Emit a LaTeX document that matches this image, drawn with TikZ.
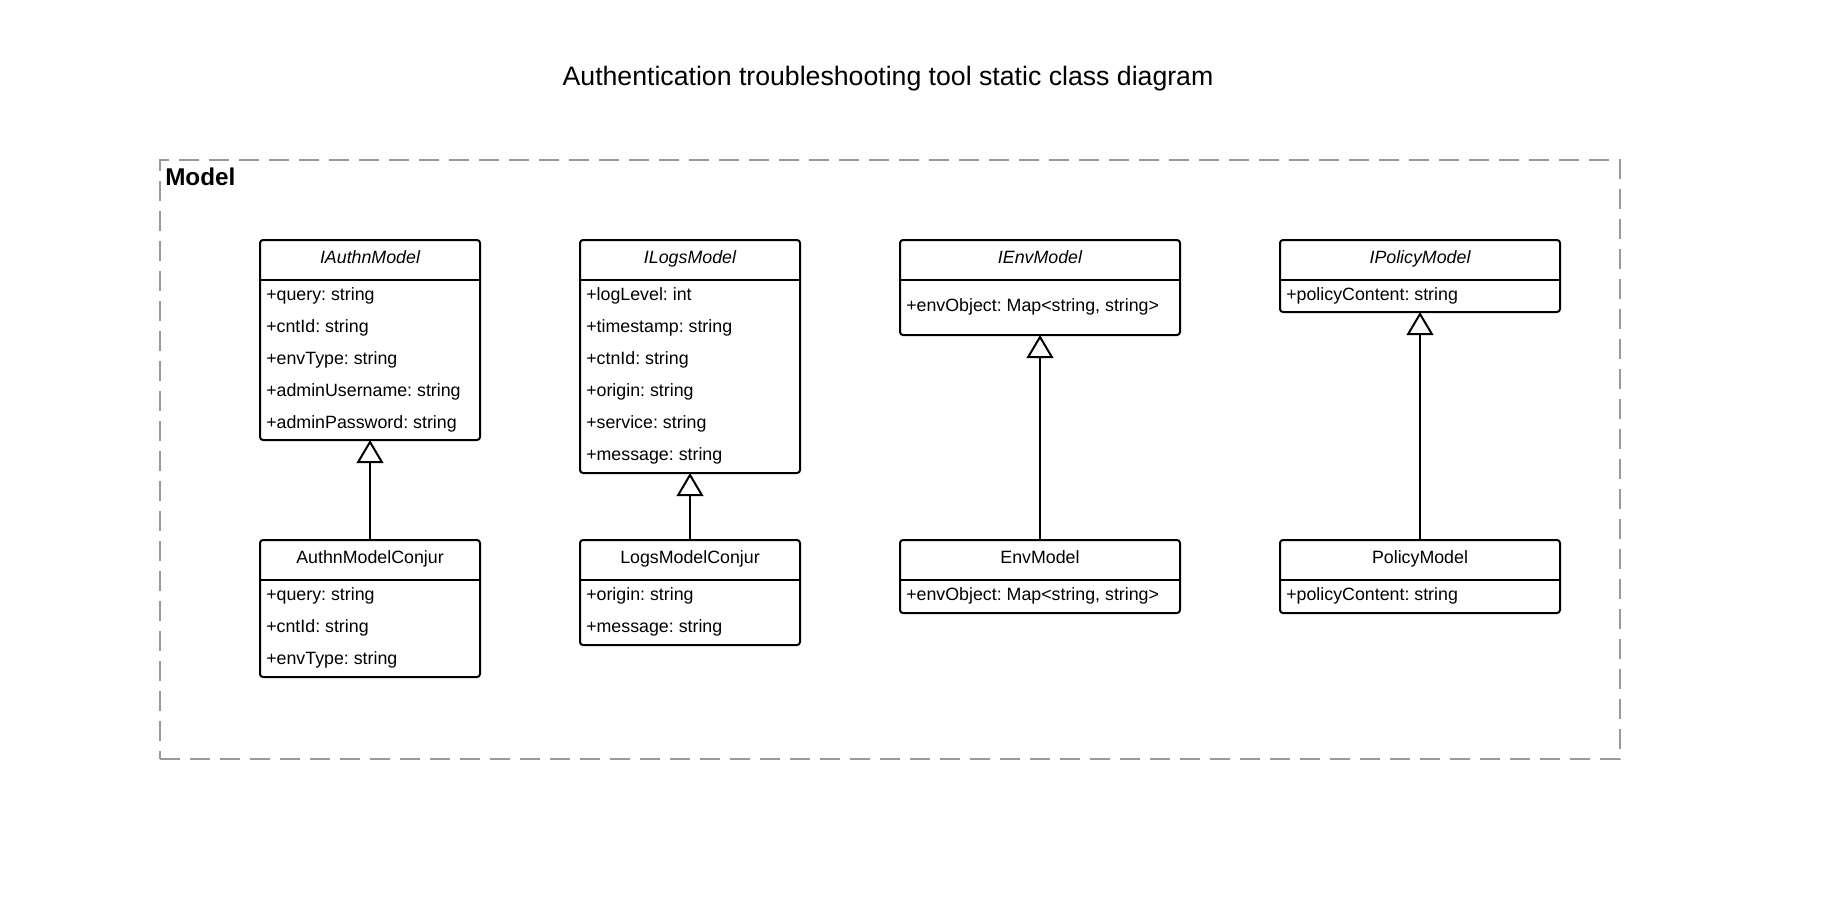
\documentclass[tikz,border=0pt]{standalone}
\usepackage{fontspec}
\setmainfont{Liberation Sans}
\frenchspacing
\usetikzlibrary{arrows.meta}
\definecolor{pkggray}{HTML}{999999}
\tikzset{
 classbox/.style={draw, line width=1.5pt, rounded corners=2.25pt, inner sep=0pt, outer sep=0pt},
 sepline/.style={line width=1.5pt},
 ctitle/.style={font=\fontsize{13.35pt}{16pt}\selectfont, inner sep=0pt},
 attr/.style={font=\fontsize{13.35pt}{16pt}\selectfont, inner sep=0pt, anchor=base west},
 inherit/.style={line width=1.5pt, -{Triangle[open, length=17.25pt, width=20pt, line width=1.5pt]}},
 pkg/.style={draw=pkggray, dash pattern=on 15pt off 7.5pt, line width=1.5pt, inner sep=0pt, outer sep=0pt},
}
\newcommand\umlclass[7]{%
  \node[classbox, anchor=north west, minimum width=#4*0.75pt, minimum height=#5*0.75pt] (#1) at (#2,#3) {};
  \draw[sepline] ([yshift=-30pt]#1.north west) -- ([yshift=-30pt]#1.north east);
  \node[ctitle, anchor=base] (#1-t) at ([yshift=-17.8pt]#1.north) {#6#7};
}
\begin{document}
\begin{tikzpicture}[x=0.75pt,y=-0.75pt]
\useasboundingbox (0,0) rectangle (1827,907);
\node[font=\fontsize{20pt}{24pt}\selectfont, inner sep=0pt, anchor=base] (title) at (888,85.5) {Authentication troubleshooting tool static class diagram};
\node[pkg, anchor=north west, minimum width=1460*0.75pt, minimum height=599*0.75pt] (model) at (160,160) {};
\node[font=\bfseries\fontsize{18.2pt}{22pt}\selectfont, anchor=base west, inner sep=0pt] (modellbl) at (165,185.5) {Model};

% IAuthnModel
\umlclass{ia}{260}{240}{220}{200}{\itshape}{IAuthnModel}
\node[attr] (ia1) at (266,300) {+query: string};
\node[attr] (ia2) at (266,332) {+cntId: string};
\node[attr] (ia3) at (266,364) {+envType: string};
\node[attr] (ia4) at (266,396) {+adminUsername: string};
\node[attr] (ia5) at (266,428) {+adminPassword: string};

% ILogsModel
\umlclass{il}{580}{240}{220}{233}{\itshape}{ILogsModel}
\node[attr] (il1) at (586,300) {+logLevel: int};
\node[attr] (il2) at (586,332) {+timestamp: string};
\node[attr] (il3) at (586,364) {+ctnId: string};
\node[attr] (il4) at (586,396) {+origin: string};
\node[attr] (il5) at (586,428) {+service: string};
\node[attr] (il6) at (586,460) {+message: string};

% IEnvModel
\umlclass{ie}{900}{240}{280}{95}{\itshape}{IEnvModel}
\node[attr] (ie1) at (906,311.5) {+envObject: Map<string, string>};

% IPolicyModel
\umlclass{ip}{1280}{240}{280}{72}{\itshape}{IPolicyModel}
\node[attr] (ip1) at (1286,300) {+policyContent: string};

% AuthnModelConjur
\umlclass{ac}{260}{540}{220}{137}{}{AuthnModelConjur}
\node[attr] (ac1) at (266,600) {+query: string};
\node[attr] (ac2) at (266,632) {+cntId: string};
\node[attr] (ac3) at (266,664) {+envType: string};

% LogsModelConjur
\umlclass{lc}{580}{540}{220}{105}{}{LogsModelConjur}
\node[attr] (lc1) at (586,600) {+origin: string};
\node[attr] (lc2) at (586,632) {+message: string};

% EnvModel
\umlclass{em}{900}{540}{280}{73}{}{EnvModel}
\node[attr] (em1) at (906,600) {+envObject: Map<string, string>};

% PolicyModel
\umlclass{pm}{1280}{540}{280}{73}{}{PolicyModel}
\node[attr] (pm1) at (1286,600) {+policyContent: string};

% generalizations
\draw[inherit] (ac.north) -- (ia.south);
\draw[inherit] (lc.north) -- (il.south);
\draw[inherit] (em.north) -- (ie.south);
\draw[inherit] (pm.north) -- (ip.south);
\end{tikzpicture}
\end{document}
